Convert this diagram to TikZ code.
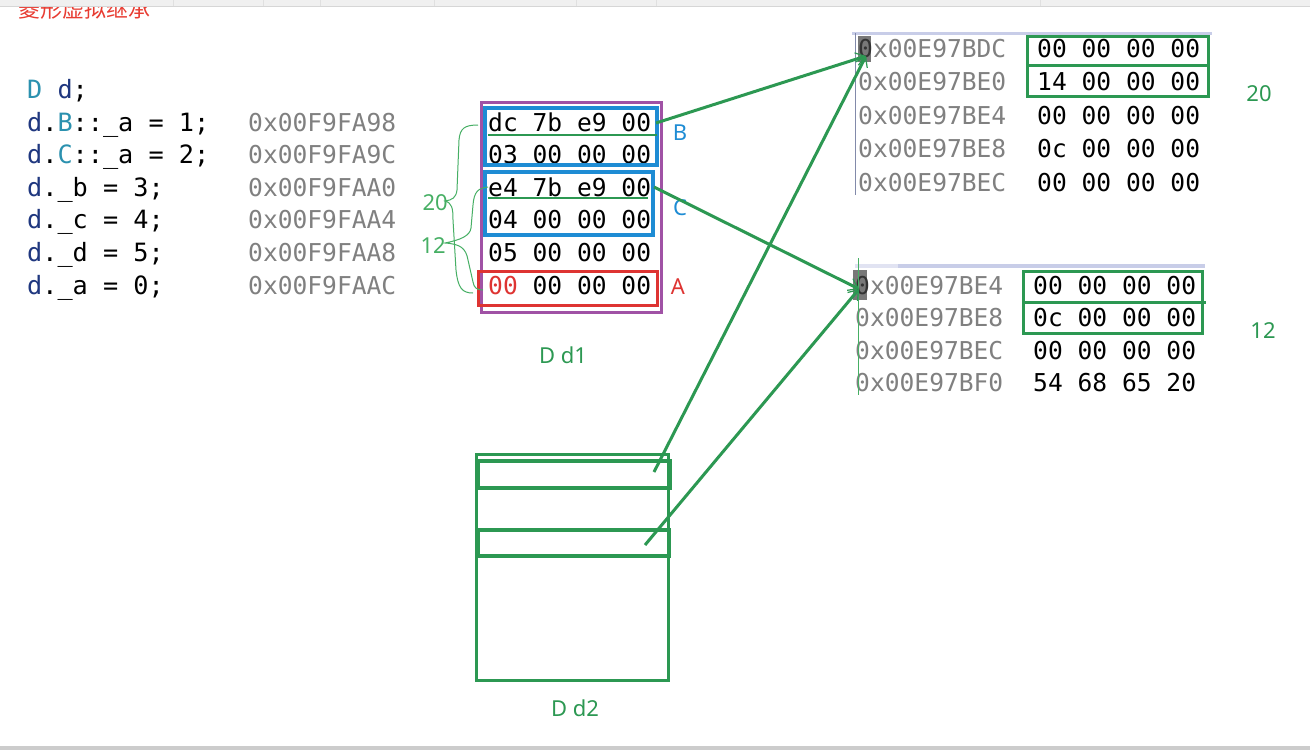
\documentclass[tikz,border=0pt]{standalone}
\usepackage{fontspec}
\setmainfont{Noto Sans}
\newfontfamily\monofam{DejaVu Sans Mono}
\newfontfamily\cjk{Noto Sans CJK SC}
\usetikzlibrary{arrows.meta}

\definecolor{hgreen}{RGB}{44,152,82}
\definecolor{lgreen}{RGB}{70,175,100}
\definecolor{boxblue}{RGB}{30,140,212}
\definecolor{boxpurple}{RGB}{160,82,165}
\definecolor{boxred}{RGB}{222,52,50}
\definecolor{addrgrey}{RGB}{128,128,128}
\definecolor{kwteal}{RGB}{43,145,175}
\definecolor{varnavy}{RGB}{31,55,127}
\definecolor{titlered}{RGB}{232,60,50}
\definecolor{hdrbar}{RGB}{200,205,232}
\definecolor{tblborder}{RGB}{130,138,170}
\definecolor{hlgrey}{RGB}{120,120,120}

\tikzset{
  mem/.style={font=\monofam\fontsize{24.6}{24.6}\selectfont, inner sep=0pt, anchor=base west},
  addr/.style={mem, text=addrgrey},
  code/.style={mem, font=\monofam\fontsize{25.2}{25.2}\selectfont},
  lab/.style={font=\fontsize{22}{22}\selectfont, inner sep=0pt},
  ptr/.style={draw=hgreen, line width=3pt,
    -{Straight Barb[length=9pt,width=13pt,line width=1.2pt]}},
  brace/.style={draw=lgreen, line width=1pt},
}

\begin{document}
\begin{tikzpicture}[x=1pt,y=-1pt]
\useasboundingbox (0,0) rectangle (1310,750);
\fill[white] (0,0) rectangle (1310,750);

% heading, partly hidden under the window bar
\node[font=\cjk\fontsize{22}{22}\selectfont, text=titlered, inner sep=0pt, anchor=base west]
  (title) at (18,17) {菱形虚拟继承};
\fill[black!6] (0,0) rectangle (1310,6);
\draw[black!16, line width=0.8pt] (0,6.5) -- (1310,6.5);
\foreach \sx in {173,263,320,434,576,656,1040}
  \draw[black!12, line width=0.6pt] (\sx,0) -- (\sx,6);
\fill[black!20] (0,746) rectangle (1310,750);

% source lines
\def\ry#1{131+32.6*#1}
\node[code] (c0) at (27,{\ry{-1}}) {\textcolor{kwteal}{D} \textcolor{varnavy}{d};};
\node[code] (c1) at (27,{\ry{0}}) {\textcolor{varnavy}{d}.\textcolor{kwteal}{B}::\_a = 1;};
\node[code] (c2) at (27,{\ry{1}}) {\textcolor{varnavy}{d}.\textcolor{kwteal}{C}::\_a = 2;};
\node[code] (c3) at (27,{\ry{2}}) {\textcolor{varnavy}{d}.\_b = 3;};
\node[code] (c4) at (27,{\ry{3}}) {\textcolor{varnavy}{d}.\_c = 4;};
\node[code] (c5) at (27,{\ry{4}}) {\textcolor{varnavy}{d}.\_d = 5;};
\node[code] (c6) at (27,{\ry{5}}) {\textcolor{varnavy}{d}.\_a = 0;};

% memory of d1
\node[addr] (a0) at (248,{\ry{0}}) {0x00F9FA98};
\node[addr] (a1) at (248,{\ry{1}}) {0x00F9FA9C};
\node[addr] (a2) at (248,{\ry{2}}) {0x00F9FAA0};
\node[addr] (a3) at (248,{\ry{3}}) {0x00F9FAA4};
\node[addr] (a4) at (248,{\ry{4}}) {0x00F9FAA8};
\node[addr] (a5) at (248,{\ry{5}}) {0x00F9FAAC};

\node[mem] (m0) at (488,{\ry{0}}) {dc 7b e9 00};
\node[mem] (m1) at (488,{\ry{1}}) {03 00 00 00};
\node[mem] (m2) at (488,{\ry{2}}) {e4 7b e9 00};
\node[mem] (m3) at (488,{\ry{3}}) {04 00 00 00};
\node[mem] (m4) at (488,{\ry{4}}) {05 00 00 00};
\node[mem] (m5) at (488,{\ry{5}}) {\textcolor{boxred}{00} 00 00 00};

\draw[boxpurple, line width=3pt] (481,102) rectangle (661,312);
\draw[boxblue, line width=3.4pt] (485,108) rectangle (657,165);
\draw[boxblue, line width=3.4pt] (485,172) rectangle (653,235);
\draw[boxred, line width=3pt] (478,271) rectangle (657,305);
\draw[hgreen, line width=2.8pt] (488,135) -- (657,135);
\draw[hgreen, line width=2.8pt] (488,198) -- (648,198);

\node[lab, text=boxblue] (lb) at (680,133) {B};
\node[lab, text=boxblue] (lc) at (680,208) {C};
\node[lab, text=boxred] (la) at (678,287) {A};
\node[lab, text=hgreen] (d1) at (563,355) {D d1};

% offset braces
\node[lab, text=lgreen, anchor=east] (o20) at (448,203) {20};
\node[lab, text=lgreen, anchor=east] (o12) at (446,246) {12};
\draw[brace] (478,125) .. controls (465,125) and (460,128) .. (459,140)
  -- (457,190) .. controls (456,198) and (452,200) .. (445,201)
  .. controls (452,203) and (453,208) .. (453,220)
  -- (456,270) .. controls (458,288) and (462,293) .. (473,293);
\draw[brace] (488,187) .. controls (478,188) and (474,192) .. (473,205)
  -- (471,228) .. controls (470,236) and (460,240) .. (445,243)
  .. controls (460,244) and (466,248) .. (468,260)
  -- (473,282) .. controls (474,288) and (477,290) .. (483,290);

% vbptr table of B
\fill[hdrbar] (852,32) rectangle (1212,35);
\draw[tblborder, line width=0.8pt] (855,33) -- (855,195);
\fill[hlgrey] (858,36) rectangle (871,62);
\node[addr] (t0) at (858,57) {\textcolor{black!80}{0}x00E97BDC};
\node[addr] (t1) at (858,90.6) {0x00E97BE0};
\node[addr] (t2) at (858,124.2) {0x00E97BE4};
\node[addr] (t3) at (858,157.8) {0x00E97BE8};
\node[addr] (t4) at (858,191.4) {0x00E97BEC};
\node[mem] (v0) at (1037,57) {00 00 00 00};
\node[mem] (v1) at (1037,90.6) {14 00 00 00};
\node[mem] (v2) at (1037,124.2) {00 00 00 00};
\node[mem] (v3) at (1037,157.8) {0c 00 00 00};
\node[mem] (v4) at (1037,191.4) {00 00 00 00};
\draw[hgreen, line width=3pt] (1027,36) rectangle (1208,96);
\draw[hgreen, line width=3pt] (1027,65) -- (1208,65);
\node[lab, text=hgreen] (r20) at (1259,94) {20};

% vbptr table of C
\fill[hdrbar!55] (855,264) rectangle (898,268);
\fill[hdrbar] (898,264) rectangle (1205,268);
\fill[hlgrey] (853,270) rectangle (867,300);
\node[addr] (u0) at (855,294.5) {\textcolor{black!80}{0}x00E97BE4};
\node[addr] (u1) at (855,326.9) {0x00E97BE8};
\node[addr] (u2) at (855,359.3) {0x00E97BEC};
\node[addr] (u3) at (855,391.7) {0x00E97BF0};
\node[mem] (w0) at (1033,294.5) {00 00 00 00};
\node[mem] (w1) at (1033,326.9) {0c 00 00 00};
\node[mem] (w2) at (1033,359.3) {00 00 00 00};
\node[mem] (w3) at (1033,391.7) {54 68 65 20};
\draw[lgreen, line width=1pt] (858,258) -- (858,395);
\draw[hgreen, line width=3pt] (1023,271) rectangle (1202,333);
\draw[hgreen, line width=3pt] (1023,302) -- (1206,302);
\node[lab, text=hgreen] (r12) at (1263,331) {12};

% d2 drawn as a plain block
\draw[hgreen, line width=3pt] (476,454) rectangle (668,680);
\draw[hgreen, line width=3.4pt] (478,461) rectangle (670,488);
\draw[hgreen, line width=3.4pt] (478,530) rectangle (669,556);
\node[lab, text=hgreen] (d2) at (575,708) {D d2};

% pointer ends
\coordinate (tB) at (866,56);
\coordinate (tC) at (859,289);
\coordinate (s1) at (656,123);
\coordinate (s2) at (654,187);
\coordinate (s3) at (654,472);
\coordinate (s4) at (645,545);

\draw[ptr] (s1) -- (tB);
\draw[ptr] (s3) -- (tB);
\draw[ptr] (s2) -- (tC);
\draw[ptr] (s4) -- (tC);
\end{tikzpicture}
\end{document}
